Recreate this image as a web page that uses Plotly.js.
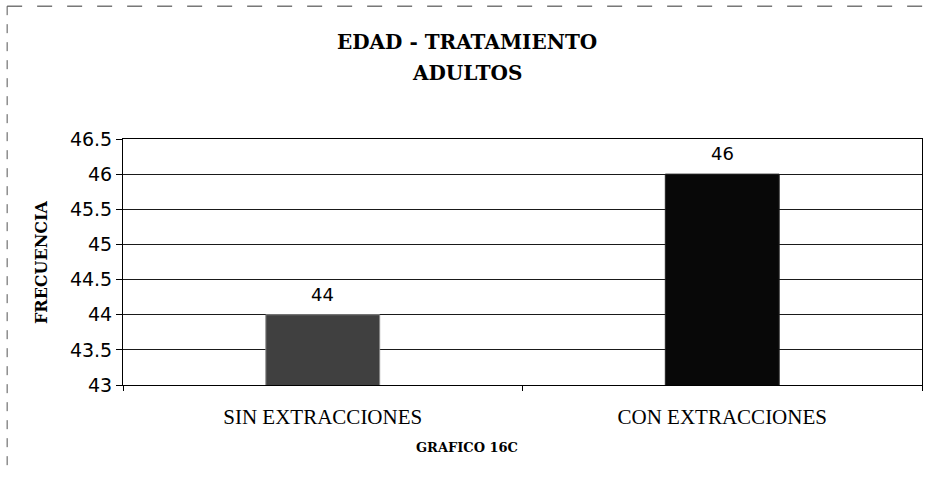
<!DOCTYPE html>
<html>
<head>
<meta charset="utf-8">
<script src="https://cdn.plot.ly/plotly-3.0.1.min.js"></script>
<style>html,body{margin:0;padding:0;background:#fff;}#chart{width:930px;height:497px;}</style>
</head>
<body>
<div id="chart"></div>
<script>
const categories = ["SIN EXTRACCIONES", "CON EXTRACCIONES"];
const values = [44, 46];
const yTicks = [43, 43.5, 44, 44.5, 45, 45.5, 46, 46.5];
const yTickLabels = ["43", "43.5", "44", "44.5", "45", "45.5", "46", "46.5"];
const titleLines = ["EDAD - TRATAMIENTO", "ADULTOS"];
const yTitle = "FRECUENCIA";
const xTitle = "GRAFICO 16C";

const trace = {
  type: "bar",
  x: categories,
  y: values,
  width: 0.285,
  marker: {color: ["#404040", "#080808"], line: {color: ["#8a8a8a", "#222"], width: 1}},
  hoverinfo: "none",
  cliponaxis: true
};

const annotations = categories.map((c, i) => ({
  x: c, y: values[i], xref: "x", yref: "y",
  text: String(values[i]), showarrow: false, yanchor: "bottom", yshift: 8,
  font: {family: "DejaVu Sans", size: 18, color: "#000"}
}));
annotations.push({xref: "paper", yref: "paper", x: 0.431, y: 1, yshift: 97, text: "<b>" + titleLines[0] + "</b>", showarrow: false, xanchor: "center", yanchor: "middle", font: {family: "DejaVu Serif", size: 20, color: "#000"}});
annotations.push({xref: "paper", yref: "paper", x: 0.431, y: 1, yshift: 66, text: "<b>" + titleLines[1] + "</b>", showarrow: false, xanchor: "center", yanchor: "middle", font: {family: "DejaVu Serif", size: 20, color: "#000"}});
annotations.push({xref: "paper", yref: "paper", x: 0.431, y: 0, yshift: -62, text: "<b>" + xTitle + "</b>", showarrow: false, xanchor: "center", yanchor: "middle", font: {family: "DejaVu Serif", size: 13, color: "#000"}});
annotations.push({xref: "paper", yref: "paper", x: 0, xshift: -82, y: 0.5, text: "<b>" + yTitle + "</b>", showarrow: false, textangle: -90, xanchor: "center", yanchor: "middle", font: {family: "DejaVu Serif", size: 16, color: "#000"}});

const layout = {
  width: 930, height: 497,
  margin: {l: 123, r: 8, t: 139, b: 112},
  paper_bgcolor: "#fff", plot_bgcolor: "#fff",
  showlegend: false,
  xaxis: {
    type: "category",
    showline: true, linecolor: "#000", linewidth: 1, mirror: true,
    ticks: "outside", tickson: "boundaries", ticklen: 5, tickcolor: "#000",
    ticklabelstandoff: 13,
    showgrid: false,
    tickfont: {family: "Liberation Serif", size: 21, color: "#000"},
    fixedrange: true
  },
  yaxis: {
    range: [43, 46.5],
    tickvals: yTicks, ticktext: yTickLabels,
    showline: true, linecolor: "#000", linewidth: 1, mirror: true,
    ticks: "outside", ticklen: 6, tickcolor: "#000",
    showgrid: true, gridcolor: "#1a1a1a", gridwidth: 1,
    zeroline: false,
    tickfont: {family: "DejaVu Sans", size: 19, color: "#000"},
    fixedrange: true
  },
  annotations: annotations,
  shapes: [
    {type: "line", xref: "paper", yref: "paper", x0: -0.145, x1: 1.01, y0: 1.54, y1: 1.54, line: {color: "#333", width: 1, dash: "longdash"}},
    {type: "line", xref: "paper", yref: "paper", x0: -0.145, x1: -0.145, y0: 1.54, y1: -0.35, line: {color: "#555", width: 1, dash: "dash"}}
  ]
};

Plotly.newPlot("chart", [trace], layout, {displayModeBar: false, staticPlot: true});
</script>
</body>
</html>
